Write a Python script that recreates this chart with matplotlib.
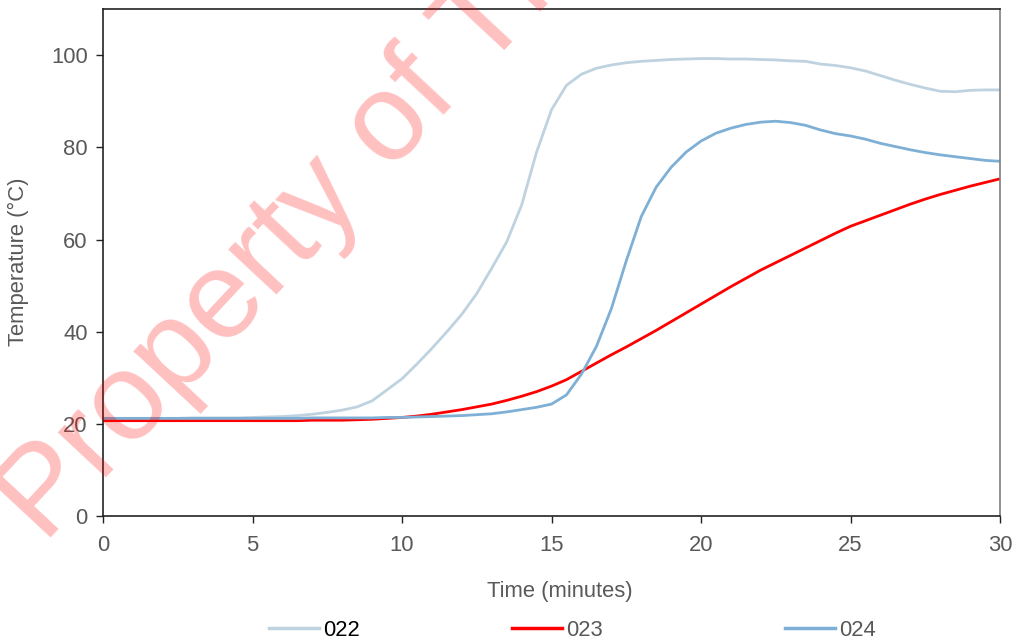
import numpy as np
import matplotlib
matplotlib.use("Agg")
import matplotlib.pyplot as plt
from matplotlib.lines import Line2D

plt.rcParams['font.family'] = ['Liberation Sans', 'DejaVu Sans']

# sampling times, minutes
minutes = np.arange(0, 30.5, 0.5)

t022 = [21.2, 21.2, 21.2, 21.2, 21.2, 21.2, 21.3, 21.3, 21.3, 21.3,
        21.4, 21.5, 21.6, 21.8, 22.1, 22.5, 23.0, 23.7, 25.0, 27.4,
        29.8, 33.0, 36.4, 40.0, 43.8, 48.3, 53.8, 59.5, 67.5, 79.0,
        88.2, 93.5, 95.9, 97.2, 97.9, 98.4, 98.7, 98.9, 99.1, 99.2,
        99.3, 99.3, 99.2, 99.2, 99.1, 99.0, 98.8, 98.7, 98.1, 97.8,
        97.3, 96.6, 95.6, 94.6, 93.7, 92.9, 92.2, 92.1, 92.4, 92.5,
        92.5]

t023 = [20.7, 20.7, 20.7, 20.7, 20.7, 20.7, 20.7, 20.7, 20.7, 20.7,
        20.7, 20.7, 20.7, 20.7, 20.8, 20.8, 20.8, 20.9, 21.0, 21.2,
        21.4, 21.7, 22.1, 22.6, 23.1, 23.7, 24.3, 25.1, 26.0, 27.0,
        28.2, 29.6, 31.4, 33.2, 35.0, 36.7, 38.5, 40.3, 42.2, 44.1,
        46.0, 47.9, 49.8, 51.6, 53.4, 55.0, 56.6, 58.2, 59.8, 61.4,
        62.9, 64.1, 65.3, 66.5, 67.7, 68.8, 69.8, 70.7, 71.6, 72.4,
        73.2]

t024 = [21.2, 21.2, 21.2, 21.2, 21.2, 21.2, 21.2, 21.2, 21.2, 21.2,
        21.2, 21.2, 21.2, 21.2, 21.3, 21.3, 21.3, 21.3, 21.3, 21.4,
        21.4, 21.5, 21.6, 21.7, 21.8, 22.0, 22.2, 22.6, 23.1, 23.6,
        24.3, 26.3, 30.8, 36.8, 45.0, 55.4, 65.0, 71.4, 75.7, 79.0,
        81.4, 83.1, 84.2, 85.0, 85.5, 85.7, 85.4, 84.8, 83.8, 83.0,
        82.5, 81.8, 80.9, 80.2, 79.5, 78.9, 78.4, 78.0, 77.6, 77.2,
        77.0]

names = ['022', '023', '024']
colors = ['#bed2e0', '#ff0000', '#7eafd5']
grey = '#595959'

fig = plt.figure(figsize=(10.16, 6.4), dpi=100)
ax = fig.add_axes([0.1014, 0.1937, 0.8829, 0.7918])

for vals, c in zip([t022, t023, t024], colors):
    ax.plot(minutes, vals, color=c, lw=2.0, solid_capstyle='butt')

ax.set_xlim(0, 30)
ax.set_ylim(0, 110)
ax.set_xticks(range(0, 31, 5))
ax.set_yticks(range(0, 101, 20))
ax.tick_params(axis='both', direction='out', length=5, width=1.0,
               labelsize=15.8, labelcolor=grey, color='#222222')
ax.tick_params(axis='x', pad=9)
ax.tick_params(axis='y', pad=6)
for s in ['left', 'bottom', 'top']:
    ax.spines[s].set_color('#222222')
    ax.spines[s].set_linewidth(1.2)
ax.spines['right'].set_color('#808080')
ax.spines['right'].set_linewidth(1.2)

fig.text(18 / 1016, 1 - 262 / 640, 'Temperature (°C)', rotation=90,
         ha='center', va='center', fontsize=15.8, color=grey)
fig.text(560 / 1016, 1 - 592 / 640, 'Time (minutes)',
         ha='center', va='center', fontsize=15.8, color=grey)

# one legend per series so each entry sits where it should
starts = [269, 512, 785]
for i, (n, c, x0) in enumerate(zip(names, colors, starts)):
    h = Line2D([], [], color=c, lw=2.5)
    leg = fig.legend(handles=[h], labels=[n], loc='center left',
                     bbox_to_anchor=(x0 / 1016, 1 - 630 / 640),
                     frameon=False, fontsize=15.8, handlelength=2.3,
                     handletextpad=0.15, borderpad=0, borderaxespad=0)
    leg.get_texts()[0].set_color('black' if i == 0 else grey)

# watermark
fig.text(44 / 1016, 1 - 544 / 640, 'Property of The', rotation=47,
         rotation_mode='anchor', ha='left', va='baseline',
         fontsize=90, color='#ff0000', alpha=0.25, zorder=5)

fig.savefig('out.png', dpi=100)
